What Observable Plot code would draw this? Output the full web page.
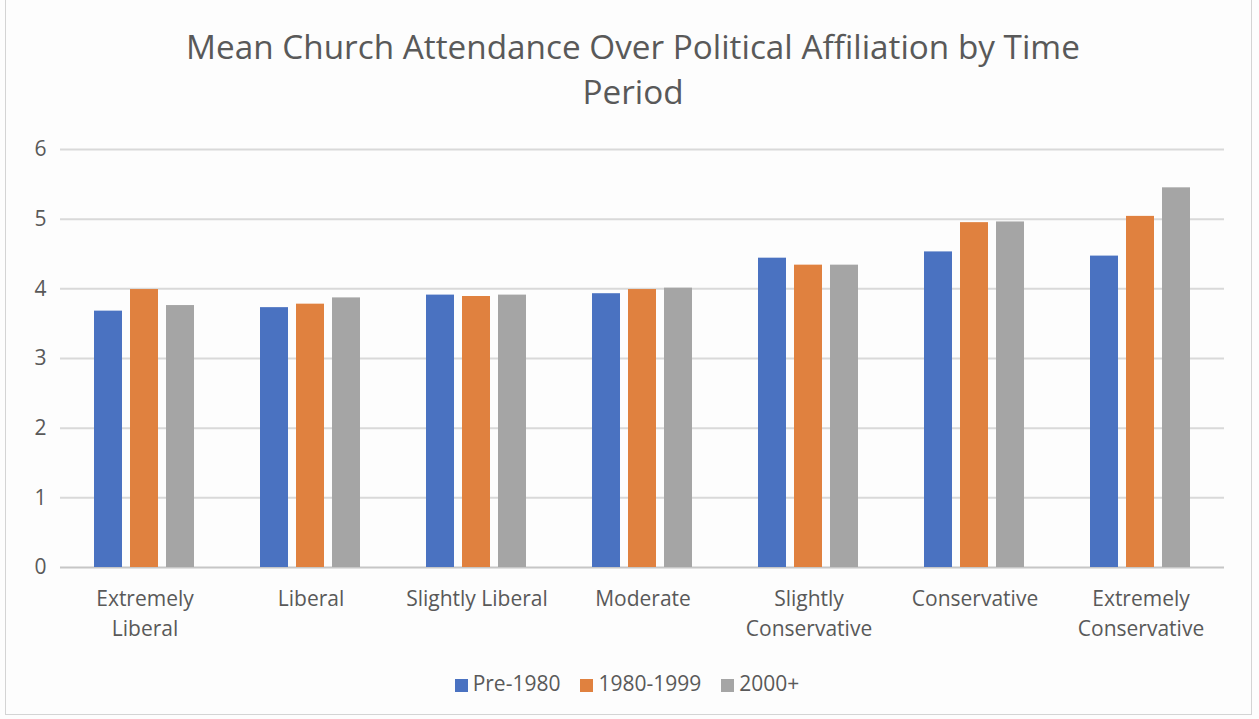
<!DOCTYPE html>
<html><head><meta charset="utf-8">
<script src="https://cdn.jsdelivr.net/npm/d3@7"></script>
<script src="https://cdn.jsdelivr.net/npm/@observablehq/plot@0.6"></script>
<style>
body{margin:0;background:#ffffff;}
#wrap{position:relative;width:1259px;height:719px;background:#fdfdfd;font-family:"Open Sans",sans-serif;color:#595959;overflow:hidden;}
#frame{position:absolute;left:5px;top:-2px;width:1247px;height:717px;border:1px solid #d4d4d4;box-sizing:border-box;}
#title{position:absolute;top:24px;left:8px;width:1250px;text-align:center;font-size:33.3px;line-height:45px;}
.layer{position:absolute;left:0;top:120px;}
#legend{position:absolute;top:669px;left:0;width:1254px;display:flex;justify-content:center;align-items:center;font-size:21px;gap:20px;}
#legend span.sw{display:inline-block;width:13px;height:13px;margin-right:5px;vertical-align:middle;}
</style></head>
<body>
<div id="wrap">
  <div id="frame"></div>
  <div id="title">Mean Church Attendance Over Political Affiliation by Time<br>Period</div>
  <div id="gridLayer" class="layer"></div>
  <div id="barLayer" class="layer"></div>
  <div id="legend"></div>
</div>
<script>
const categories = ["Extremely Liberal","Liberal","Slightly Liberal","Moderate","Slightly Conservative","Conservative","Extremely Conservative"];
const categoryLabels = ["Extremely\nLiberal","Liberal","Slightly Liberal","Moderate","Slightly\nConservative","Conservative","Extremely\nConservative"];
const periods = ["Pre-1980","1980-1999","2000+"];
const pre1980 = [3.68, 3.73, 3.91, 3.93, 4.44, 4.53, 4.47];
const y1980_1999 = [3.99, 3.78, 3.89, 3.99, 4.34, 4.95, 5.04];
const y2000plus = [3.76, 3.87, 3.91, 4.01, 4.34, 4.96, 5.45];
const colors = ["#4a72c1", "#e0813f", "#a5a5a5"];
const yTicks = [0,1,2,3,4,5,6];

const seriesValues = [pre1980, y1980_1999, y2000plus];
const data = [];
categories.forEach((c, i) => periods.forEach((p, j) => data.push({cat: c, period: p, value: seriesValues[j][i]})));

const W = 1259, H = 545, mt = 29, mb = 98, ml = 60, mr = 35;
const font = '"Open Sans",sans-serif';

const grid = Plot.plot({
  width: W, height: H, marginTop: mt, marginBottom: mb, marginLeft: ml, marginRight: mr,
  style: {background: "transparent", fontSize: "21px", fontFamily: font, color: "#595959"},
  x: {axis: null, domain: [0, 1]},
  y: {domain: [0, 6], ticks: yTicks, tickSize: 0, tickPadding: 14, label: null, tickFormat: d => String(d)},
  marks: [
    Plot.ruleY(yTicks.filter(d => d > 0), {stroke: "#d9d9d9", strokeWidth: 2}),
    Plot.ruleY([0], {stroke: "#c6c6c6", strokeWidth: 2})
  ]
});
document.getElementById("gridLayer").appendChild(grid);

const bars = Plot.plot({
  width: W, height: H, marginTop: mt, marginBottom: mb, marginLeft: ml, marginRight: mr,
  style: {background: "transparent", fontSize: "21px", fontFamily: font, color: "#595959"},
  fx: {domain: categories, paddingInner: 0.38, paddingOuter: 0.19, axis: null, label: null},
  x: {domain: periods, paddingInner: 0.21, paddingOuter: 0, axis: null},
  y: {domain: [0, 6], axis: null},
  color: {domain: periods, range: colors},
  marks: [
    Plot.barY(data, {fx: "cat", x: "period", y: "value", fill: "period"}),
    Plot.text(categories, {fx: d => d, text: d => categoryLabels[categories.indexOf(d)], frameAnchor: "bottom", lineAnchor: "top", dy: 17, fontSize: 21, lineHeight: 1.43, fill: "#595959"})
  ]
});
document.getElementById("barLayer").appendChild(bars);

const legend = document.getElementById("legend");
periods.forEach((p, j) => {
  const item = document.createElement("div");
  const sw = document.createElement("span");
  sw.className = "sw"; sw.style.background = colors[j];
  item.appendChild(sw);
  item.appendChild(document.createTextNode(p));
  legend.appendChild(item);
});
</script>
</body></html>
